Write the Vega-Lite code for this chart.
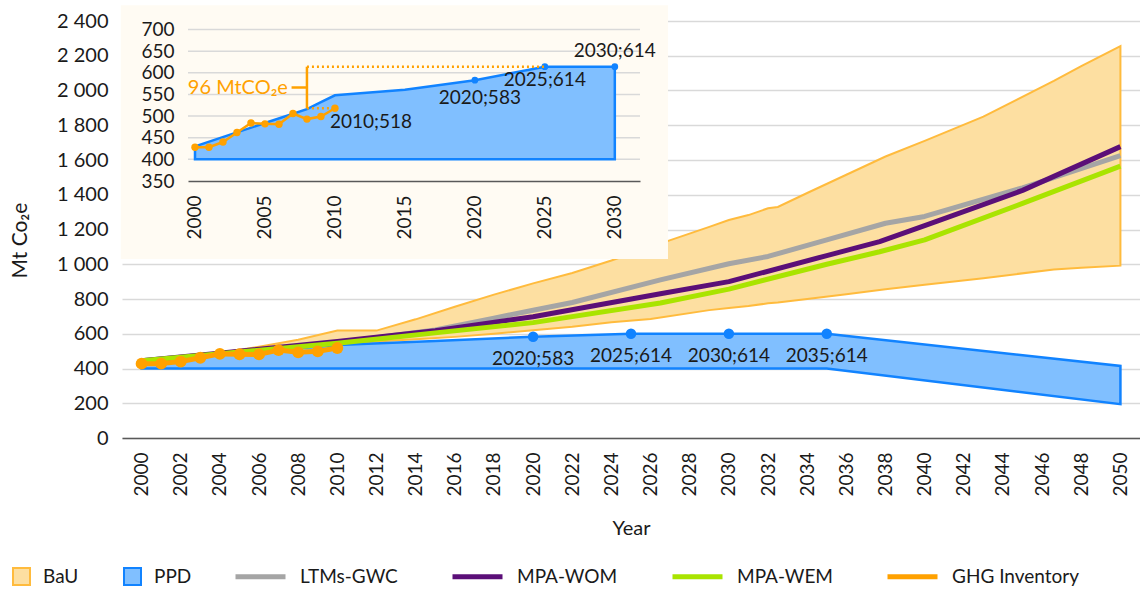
{
  "$schema": "https://vega.github.io/schema/vega-lite/v6.json",
  "width": 1018,
  "height": 417,
  "autosize": "none",
  "padding": {"left": 122, "top": 21, "right": 0, "bottom": 151},
  "background": "white",
  "config": {
    "font": "Lato",
    "view": {"stroke": null},
    "axis": {"labelFont": "Lato", "titleFont": "Lato", "labelColor": "#1a1a1a", "titleColor": "#1a1a1a", "titleFontWeight": "normal", "ticks": false, "domain": false, "grid": false, "labelOverlap": false, "labelSeparation": 0},
    "axisY": {"labelOverlap": false},
    "legend": {"labelFont": "Lato", "labelColor": "#1a1a1a", "padding": 0},
    "text": {"font": "Lato"}
  },
  "datasets": {
    "bands": [
      {"series": "BaU", "year": 2000, "lo": 430, "hi": 432},
      {"series": "BaU", "year": 2002, "lo": 445, "hi": 462},
      {"series": "BaU", "year": 2004, "lo": 465, "hi": 490},
      {"series": "BaU", "year": 2006, "lo": 490, "hi": 525},
      {"series": "BaU", "year": 2008, "lo": 515, "hi": 565},
      {"series": "BaU", "year": 2010, "lo": 540, "hi": 618},
      {"series": "BaU", "year": 2012, "lo": 555, "hi": 618},
      {"series": "BaU", "year": 2014, "lo": 568, "hi": 683},
      {"series": "BaU", "year": 2016, "lo": 582, "hi": 755},
      {"series": "BaU", "year": 2018, "lo": 600, "hi": 825},
      {"series": "BaU", "year": 2020, "lo": 620, "hi": 890},
      {"series": "BaU", "year": 2022, "lo": 640, "hi": 950},
      {"series": "BaU", "year": 2024, "lo": 666, "hi": 1022},
      {"series": "BaU", "year": 2026, "lo": 685, "hi": 1100},
      {"series": "BaU", "year": 2029, "lo": 736, "hi": 1215},
      {"series": "BaU", "year": 2030, "lo": 748, "hi": 1255},
      {"series": "BaU", "year": 2031, "lo": 760, "hi": 1283},
      {"series": "BaU", "year": 2032, "lo": 775, "hi": 1322},
      {"series": "BaU", "year": 2032.5, "lo": 780, "hi": 1330},
      {"series": "BaU", "year": 2034, "lo": 800, "hi": 1410},
      {"series": "BaU", "year": 2036, "lo": 828, "hi": 1515},
      {"series": "BaU", "year": 2038, "lo": 856, "hi": 1620},
      {"series": "BaU", "year": 2040, "lo": 882, "hi": 1710},
      {"series": "BaU", "year": 2043, "lo": 920, "hi": 1850},
      {"series": "BaU", "year": 2046.6, "lo": 970, "hi": 2055},
      {"series": "BaU", "year": 2048, "lo": 980, "hi": 2140},
      {"series": "BaU", "year": 2050, "lo": 992, "hi": 2255},
      {"series": "PPD", "year": 2000, "lo": 400, "hi": 445},
      {"series": "PPD", "year": 2005, "lo": 400, "hi": 490},
      {"series": "PPD", "year": 2010, "lo": 400, "hi": 535},
      {"series": "PPD", "year": 2015, "lo": 400, "hi": 558},
      {"series": "PPD", "year": 2020, "lo": 400, "hi": 583},
      {"series": "PPD", "year": 2025, "lo": 400, "hi": 600},
      {"series": "PPD", "year": 2030, "lo": 400, "hi": 600},
      {"series": "PPD", "year": 2035, "lo": 400, "hi": 600},
      {"series": "PPD", "year": 2050, "lo": 195, "hi": 415}
    ],
    "lines": [
      {"series": "LTMs-GWC", "year": 2000, "value": 445},
      {"series": "LTMs-GWC", "year": 2005, "value": 495},
      {"series": "LTMs-GWC", "year": 2010, "value": 548},
      {"series": "LTMs-GWC", "year": 2015, "value": 622},
      {"series": "LTMs-GWC", "year": 2018, "value": 690},
      {"series": "LTMs-GWC", "year": 2020, "value": 735},
      {"series": "LTMs-GWC", "year": 2022, "value": 780},
      {"series": "LTMs-GWC", "year": 2026.5, "value": 910},
      {"series": "LTMs-GWC", "year": 2030, "value": 1003},
      {"series": "LTMs-GWC", "year": 2032, "value": 1045},
      {"series": "LTMs-GWC", "year": 2035, "value": 1140},
      {"series": "LTMs-GWC", "year": 2038, "value": 1236},
      {"series": "LTMs-GWC", "year": 2040, "value": 1275},
      {"series": "LTMs-GWC", "year": 2045, "value": 1440},
      {"series": "LTMs-GWC", "year": 2050, "value": 1625},
      {"series": "MPA-WOM", "year": 2000, "value": 445},
      {"series": "MPA-WOM", "year": 2005, "value": 500},
      {"series": "MPA-WOM", "year": 2010, "value": 555},
      {"series": "MPA-WOM", "year": 2015, "value": 618},
      {"series": "MPA-WOM", "year": 2020, "value": 698},
      {"series": "MPA-WOM", "year": 2026.5, "value": 830},
      {"series": "MPA-WOM", "year": 2030, "value": 900},
      {"series": "MPA-WOM", "year": 2035, "value": 1050},
      {"series": "MPA-WOM", "year": 2037.7, "value": 1130},
      {"series": "MPA-WOM", "year": 2040, "value": 1222},
      {"series": "MPA-WOM", "year": 2045, "value": 1425},
      {"series": "MPA-WOM", "year": 2050, "value": 1677},
      {"series": "MPA-WEM", "year": 2000, "value": 445},
      {"series": "MPA-WEM", "year": 2005, "value": 495},
      {"series": "MPA-WEM", "year": 2010, "value": 545},
      {"series": "MPA-WEM", "year": 2015, "value": 605},
      {"series": "MPA-WEM", "year": 2020, "value": 664},
      {"series": "MPA-WEM", "year": 2026.5, "value": 777},
      {"series": "MPA-WEM", "year": 2030, "value": 857},
      {"series": "MPA-WEM", "year": 2035, "value": 1000},
      {"series": "MPA-WEM", "year": 2037.7, "value": 1072},
      {"series": "MPA-WEM", "year": 2040, "value": 1140},
      {"series": "MPA-WEM", "year": 2045, "value": 1350},
      {"series": "MPA-WEM", "year": 2050, "value": 1565},
      {"series": "GHG Inventory", "year": 2000, "value": 428},
      {"series": "GHG Inventory", "year": 2001, "value": 428},
      {"series": "GHG Inventory", "year": 2002, "value": 440},
      {"series": "GHG Inventory", "year": 2003, "value": 462},
      {"series": "GHG Inventory", "year": 2004, "value": 484},
      {"series": "GHG Inventory", "year": 2005, "value": 482},
      {"series": "GHG Inventory", "year": 2006, "value": 481},
      {"series": "GHG Inventory", "year": 2007, "value": 506},
      {"series": "GHG Inventory", "year": 2008, "value": 493},
      {"series": "GHG Inventory", "year": 2009, "value": 499},
      {"series": "GHG Inventory", "year": 2010, "value": 518}
    ],
    "ppdPts": [
      {"year": 2020, "value": 583, "label": "2020;583"},
      {"year": 2025, "value": 600, "label": "2025;614"},
      {"year": 2030, "value": 600, "label": "2030;614"},
      {"year": 2035, "value": 600, "label": "2035;614"}
    ],
    "inBg": [{"x1": 1994.7, "x2": 2033.8, "y1": 756, "y2": 170}],
    "inGrid": [{"v": 400}, {"v": 450}, {"v": 500}, {"v": 550}, {"v": 600}, {"v": 650}, {"v": 700}],
    "inPPD": [
      {"year": 2000, "lo": 400, "hi": 430},
      {"year": 2005, "lo": 400, "hi": 484},
      {"year": 2008, "lo": 400, "hi": 516},
      {"year": 2009, "lo": 400, "hi": 532},
      {"year": 2010, "lo": 400, "hi": 548},
      {"year": 2015, "lo": 400, "hi": 561},
      {"year": 2020, "lo": 400, "hi": 583},
      {"year": 2025, "lo": 400, "hi": 614},
      {"year": 2030, "lo": 400, "hi": 614}
    ],
    "inPts": [
      {"year": 2020, "value": 583, "label": "2020;583"},
      {"year": 2025, "value": 614, "label": "2025;614"},
      {"year": 2030, "value": 614, "label": "2030;614"}
    ],
    "inDots": [
      {"x1": 2008, "x2": 2025, "y": 614},
      {"x1": 2008, "x2": 2010, "y": 518}
    ],
    "inBracket": [
      {"x1": 2008, "x2": 2008, "y1": 518, "y2": 614},
      {"x1": 2006.9, "x2": 2008, "y1": 566, "y2": 566}
    ],
    "inNote": [{"year": 2006.64, "value": 566, "text": "96 MtCO₂e"}],
    "inGhgLabel": [{"year": 2010, "value": 518, "label": "2010;518"}]
  },
  "resolve": {"scale": {"x": "independent", "y": "independent"}, "axis": {"x": "independent", "y": "independent"}},
  "layer": [
    {
      "layer": [
        {
          "data": {"name": "bands"},
          "transform": [{"filter": "datum.series === 'BaU'"}],
          "mark": {"type": "area", "stroke": "#FFBB3D", "strokeWidth": 2, "fillOpacity": 1, "opacity": 1},
          "encoding": {
            "x": {"field": "year", "type": "quantitative", "scale": {"domain": [1999, 2051], "nice": false, "zero": false},
              "axis": {"title": "Year", "values": [2000,2002,2004,2006,2008,2010,2012,2014,2016,2018,2020,2022,2024,2026,2028,2030,2032,2034,2036,2038,2040,2042,2044,2046,2048,2050], "format": "d", "labelAngle": 270, "labelFontSize": 19, "labelPadding": 14, "domain": true, "domainColor": "#595959", "domainWidth": 1.5, "titleFontSize": 20, "titleX": 509, "titleY": 90, "titleBaseline": "middle", "titleAlign": "center", "labelOverlap": false, "labelBound": false}},
            "y": {"field": "hi", "type": "quantitative", "scale": {"domain": [0, 2400], "nice": false, "zero": false},
              "axis": {"title": "Mt Co₂e", "values": [0,200,400,600,800,1000,1200,1400,1600,1800,2000,2200,2400], "tickCount": 13, "labelExpr": "replace(format(datum.value, ','), ',', ' ')", "labelFontSize": 20, "labelPadding": 14, "labelOverlap": false, "labelBound": false, "grid": true, "gridColor": "#D9D9D9", "gridWidth": 1.5, "titleFontSize": 21, "titleX": -102, "titleY": 219, "titleAngle": 270, "titleAlign": "center", "titleBaseline": "middle"}},
            "y2": {"field": "lo"},
            "fill": {"field": "series", "type": "nominal", "scale": {"domain": ["BaU"], "range": ["#FDDFA1"]},
              "legend": {"orient": "none", "legendX": -110, "legendY": 546, "direction": "horizontal", "title": null, "symbolType": "square", "symbolSize": 289, "symbolStrokeWidth": 2, "labelFontSize": 19, "labelOffset": 12}}
          }
        },
        {
          "data": {"name": "bands"},
          "transform": [{"filter": "datum.series === 'PPD'"}],
          "mark": {"type": "area", "stroke": "#1183FF", "strokeWidth": 2.5, "fillOpacity": 1, "opacity": 1},
          "encoding": {
            "x": {"field": "year", "type": "quantitative"},
            "y": {"field": "hi", "type": "quantitative"},
            "y2": {"field": "lo"},
            "color": {"field": "series", "type": "nominal", "scale": {"domain": ["PPD"], "range": ["#80BFFF"]},
              "legend": {"orient": "none", "legendX": 1, "legendY": 546, "direction": "horizontal", "title": null, "symbolType": "square", "symbolSize": 289, "symbolStrokeWidth": 2, "labelFontSize": 19, "labelOffset": 12}}
          }
        },
        {
          "data": {"name": "lines"},
          "transform": [{"filter": "datum.series === 'LTMs-GWC'"}],
          "mark": {"type": "line", "strokeWidth": 5, "strokeJoin": "round"},
          "encoding": {
            "x": {"field": "year", "type": "quantitative"},
            "y": {"field": "value", "type": "quantitative"},
            "stroke": {"field": "series", "type": "nominal", "scale": {"domain": ["LTMs-GWC", "MPA-WOM", "MPA-WEM", "GHG Inventory"], "range": ["#A5A5A5", "#5B0F78", "#A9E400", "#FFA100"]},
              "legend": {"orient": "none", "legendX": 111, "legendY": 528, "direction": "horizontal", "title": null, "symbolType": "stroke", "symbolSize": 2500, "symbolStrokeWidth": 5, "labelFontSize": 19, "labelOffset": 12, "columnPadding": 44}}
          }
        },
        {
          "data": {"name": "lines"},
          "transform": [{"filter": "datum.series === 'MPA-WOM'"}],
          "mark": {"type": "line", "strokeWidth": 5, "strokeJoin": "round"},
          "encoding": {
            "x": {"field": "year", "type": "quantitative"},
            "y": {"field": "value", "type": "quantitative"},
            "stroke": {"field": "series", "type": "nominal", "scale": {"domain": ["LTMs-GWC", "MPA-WOM", "MPA-WEM", "GHG Inventory"], "range": ["#A5A5A5", "#5B0F78", "#A9E400", "#FFA100"]}}
          }
        },
        {
          "data": {"name": "lines"},
          "transform": [{"filter": "datum.series === 'MPA-WEM'"}],
          "mark": {"type": "line", "strokeWidth": 5, "strokeJoin": "round"},
          "encoding": {
            "x": {"field": "year", "type": "quantitative"},
            "y": {"field": "value", "type": "quantitative"},
            "stroke": {"field": "series", "type": "nominal", "scale": {"domain": ["LTMs-GWC", "MPA-WOM", "MPA-WEM", "GHG Inventory"], "range": ["#A5A5A5", "#5B0F78", "#A9E400", "#FFA100"]}}
          }
        },
        {
          "data": {"name": "lines"},
          "transform": [{"filter": "datum.series === 'GHG Inventory'"}],
          "mark": {"type": "line", "strokeWidth": 5, "strokeJoin": "round"},
          "encoding": {
            "x": {"field": "year", "type": "quantitative"},
            "y": {"field": "value", "type": "quantitative"},
            "stroke": {"field": "series", "type": "nominal", "scale": {"domain": ["LTMs-GWC", "MPA-WOM", "MPA-WEM", "GHG Inventory"], "range": ["#A5A5A5", "#5B0F78", "#A9E400", "#FFA100"]}}
          }
        },
        {
          "data": {"name": "lines"},
          "transform": [{"filter": "datum.series === 'GHG Inventory'"}],
          "mark": {"type": "circle", "size": 140, "color": "#FFA100", "opacity": 1},
          "encoding": {
            "x": {"field": "year", "type": "quantitative"},
            "y": {"field": "value", "type": "quantitative"}
          }
        },
        {
          "data": {"name": "ppdPts"},
          "mark": {"type": "circle", "size": 110, "color": "#1183FF", "opacity": 1},
          "encoding": {
            "x": {"field": "year", "type": "quantitative"},
            "y": {"field": "value", "type": "quantitative"}
          }
        },
        {
          "data": {"name": "ppdPts"},
          "mark": {"type": "text", "fontSize": 19, "color": "#1a1a1a", "align": "center", "baseline": "middle", "dy": 22},
          "encoding": {
            "x": {"field": "year", "type": "quantitative"},
            "y": {"field": "value", "type": "quantitative"},
            "text": {"field": "label"}
          }
        }
      ]
    },
    {
      "layer": [
        {
          "data": {"name": "inBg"},
          "mark": {"type": "rect", "color": "#FFFBF3", "opacity": 1},
          "encoding": {
            "x": {"field": "x1", "type": "quantitative", "scale": {"domain": [1999.5, 2031.8], "range": [66, 518], "nice": false, "zero": false},
              "axis": {"title": null, "orient": "bottom", "offset": -257, "values": [2000, 2005, 2010, 2015, 2020, 2025, 2030], "format": "d", "labelAngle": 270, "labelFontSize": 19, "labelPadding": 14, "domain": true, "domainColor": "#595959", "domainWidth": 1.5, "zindex": 1, "labelOverlap": false, "labelBound": false}},
            "x2": {"field": "x2"},
            "y": {"field": "y1", "type": "quantitative", "scale": {"domain": [350, 700], "range": [160, 8.5], "nice": false, "zero": false},
              "axis": {"title": null, "orient": "left", "offset": -66, "values": [350, 400, 450, 500, 550, 600, 650, 700], "labelFontSize": 19, "labelPadding": 14, "labelOverlap": false, "labelBound": false, "zindex": 1}},
            "y2": {"field": "y2"}
          }
        },
        {
          "data": {"name": "inGrid"},
          "mark": {"type": "rule", "color": "#D9D9D9", "strokeWidth": 1.5},
          "encoding": {
            "x": {"datum": 1999.5, "type": "quantitative"},
            "x2": {"datum": 2031.8},
            "y": {"field": "v", "type": "quantitative"}
          }
        },
        {
          "data": {"name": "inPPD"},
          "mark": {"type": "area", "fill": "#80BFFF", "stroke": "#1183FF", "strokeWidth": 2.5, "fillOpacity": 1, "opacity": 1},
          "encoding": {
            "x": {"field": "year", "type": "quantitative"},
            "y": {"field": "hi", "type": "quantitative"},
            "y2": {"field": "lo"}
          }
        },
        {
          "data": {"name": "inPts"},
          "mark": {"type": "circle", "size": 45, "color": "#1183FF", "opacity": 1},
          "encoding": {
            "x": {"field": "year", "type": "quantitative"},
            "y": {"field": "value", "type": "quantitative"}
          }
        },
        {
          "data": {"name": "inDots"},
          "mark": {"type": "rule", "color": "#FFA100", "strokeWidth": 2.5, "strokeDash": [2, 3]},
          "encoding": {
            "x": {"field": "x1", "type": "quantitative"},
            "x2": {"field": "x2"},
            "y": {"field": "y", "type": "quantitative"}
          }
        },
        {
          "data": {"name": "inBracket"},
          "mark": {"type": "rule", "color": "#FFA100", "strokeWidth": 2.5},
          "encoding": {
            "x": {"field": "x1", "type": "quantitative"},
            "x2": {"field": "x2"},
            "y": {"field": "y1", "type": "quantitative"},
            "y2": {"field": "y2"}
          }
        },
        {
          "data": {"name": "lines"},
          "transform": [{"filter": "datum.series === 'GHG Inventory'"}],
          "mark": {"type": "line", "color": "#FFA100", "strokeWidth": 2.5},
          "encoding": {
            "x": {"field": "year", "type": "quantitative"},
            "y": {"field": "value", "type": "quantitative"}
          }
        },
        {
          "data": {"name": "lines"},
          "transform": [{"filter": "datum.series === 'GHG Inventory'"}],
          "mark": {"type": "circle", "size": 55, "color": "#FFA100", "opacity": 1},
          "encoding": {
            "x": {"field": "year", "type": "quantitative"},
            "y": {"field": "value", "type": "quantitative"}
          }
        },
        {
          "data": {"name": "inNote"},
          "mark": {"type": "text", "fontSize": 20, "color": "#FFA100", "align": "right", "baseline": "middle"},
          "encoding": {
            "x": {"field": "year", "type": "quantitative"},
            "y": {"field": "value", "type": "quantitative"},
            "text": {"field": "text"}
          }
        },
        {
          "data": {"name": "inGhgLabel"},
          "mark": {"type": "text", "fontSize": 19, "color": "#1a1a1a", "align": "left", "baseline": "middle", "dx": -5, "dy": 14},
          "encoding": {
            "x": {"field": "year", "type": "quantitative"},
            "y": {"field": "value", "type": "quantitative"},
            "text": {"field": "label"}
          }
        },
        {
          "data": {"name": "inPts"},
          "transform": [{"filter": "datum.year === 2020"}],
          "mark": {"type": "text", "fontSize": 19, "color": "#1a1a1a", "align": "center", "baseline": "middle", "dx": 5, "dy": 18},
          "encoding": {
            "x": {"field": "year", "type": "quantitative"},
            "y": {"field": "value", "type": "quantitative"},
            "text": {"field": "label"}
          }
        },
        {
          "data": {"name": "inPts"},
          "transform": [{"filter": "datum.year === 2025"}],
          "mark": {"type": "text", "fontSize": 19, "color": "#1a1a1a", "align": "center", "baseline": "middle", "dy": 13},
          "encoding": {
            "x": {"field": "year", "type": "quantitative"},
            "y": {"field": "value", "type": "quantitative"},
            "text": {"field": "label"}
          }
        },
        {
          "data": {"name": "inPts"},
          "transform": [{"filter": "datum.year === 2030"}],
          "mark": {"type": "text", "fontSize": 19, "color": "#1a1a1a", "align": "center", "baseline": "middle", "dy": -16},
          "encoding": {
            "x": {"field": "year", "type": "quantitative"},
            "y": {"field": "value", "type": "quantitative"},
            "text": {"field": "label"}
          }
        }
      ]
    }
  ]
}
